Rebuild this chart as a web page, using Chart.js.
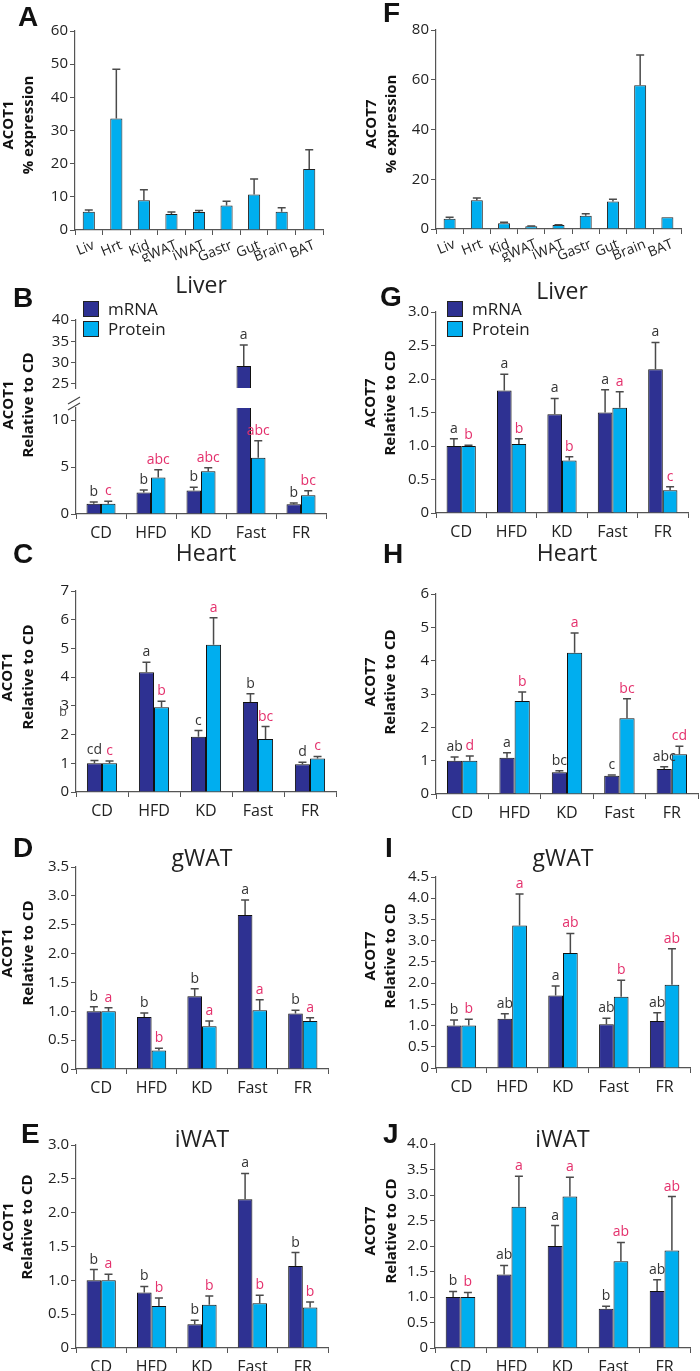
<!DOCTYPE html>
<html>
<head>
<meta charset="utf-8">
<script src="https://cdn.jsdelivr.net/npm/chart.js@4/dist/chart.umd.min.js"></script>
<style>
  body { margin: 0; background: #fff; }
  #fig { position: relative; width: 700px; height: 1371px; overflow: hidden; background: #fff; }
  canvas { position: absolute; }
</style>
</head>
<body>
<div id="fig"></div>
<script>
// ---- data ----
var tissues = ['Liv', 'Hrt', 'Kid', 'gWAT', 'iWAT', 'Gastr', 'Gut', 'Brain', 'BAT'];
var diets = ['CD', 'HFD', 'KD', 'Fast', 'FR'];

// A / F: tissue distribution (% expression)
var acot1Tissue    = [5.5, 33.6, 9.0, 4.8, 5.4, 7.4, 10.7, 5.5, 18.4];
var acot1TissueErr = [0.5, 14.9, 3.1, 0.6, 0.5, 1.3, 4.7, 1.2, 5.8];
var acot7Tissue    = [4.1, 11.6, 2.3, 1.1, 1.6, 5.3, 11.1, 57.8, 4.7];
var acot7TissueErr = [0.6, 0.9, 0.4, 0.1, 0.1, 0.8, 0.9, 12.1, 0];

// B: liver ACOT1
var liver1Mrna = [1.1, 2.3, 2.5, 29.2, 1.04];
var liver1MrnaErr = [0.18, 0.27, 0.35, 4.9, 0.14];
var liver1Prot = [1.1, 3.9, 4.55, 6.0, 2.0];
var liver1ProtErr = [0.25, 0.82, 0.38, 1.8, 0.47];
var liver1MrnaSig = ['b', 'b', 'b', 'a', 'b'];
var liver1ProtSig = ['c', 'abc', 'abc', 'abc', 'bc'];

// C: heart ACOT1
var heart1Mrna = [1.0, 4.17, 1.92, 3.13, 0.97];
var heart1MrnaErr = [0.1, 0.35, 0.22, 0.29, 0.07];
var heart1Prot = [1.0, 2.95, 5.13, 1.85, 1.17];
var heart1ProtErr = [0.08, 0.21, 0.94, 0.43, 0.07];
var heart1MrnaSig = ['cd', 'a', 'c', 'b', 'd'];
var heart1ProtSig = ['c', 'b', 'a', 'bc', 'c'];

// D: gWAT ACOT1
var gwat1Mrna = [1.0, 0.9, 1.26, 2.67, 0.96];
var gwat1MrnaErr = [0.08, 0.07, 0.13, 0.26, 0.06];
var gwat1Prot = [1.0, 0.32, 0.74, 1.02, 0.83];
var gwat1ProtErr = [0.06, 0.04, 0.09, 0.18, 0.06];
var gwat1MrnaSig = ['b', 'b', 'b', 'a', 'b'];
var gwat1ProtSig = ['a', 'b', 'a', 'a', 'a'];

// E: iWAT ACOT1
var iwat1Mrna = [1.0, 0.82, 0.35, 2.2, 1.21];
var iwat1MrnaErr = [0.16, 0.09, 0.06, 0.38, 0.2];
var iwat1Prot = [1.0, 0.62, 0.64, 0.66, 0.6];
var iwat1ProtErr = [0.09, 0.12, 0.13, 0.12, 0.08];
var iwat1MrnaSig = ['b', 'b', 'b', 'a', 'b'];
var iwat1ProtSig = ['a', 'b', 'b', 'b', 'b'];

// G: liver ACOT7
var liver7Mrna = [1.0, 1.83, 1.475, 1.5, 2.145];
var liver7MrnaErr = [0.11, 0.24, 0.235, 0.34, 0.4];
var liver7Prot = [1.0, 1.03, 0.785, 1.57, 0.34];
var liver7ProtErr = [0.01, 0.08, 0.055, 0.24, 0.05];
var liver7MrnaSig = ['a', 'a', 'a', 'a', 'a'];
var liver7ProtSig = ['b', 'b', 'b', 'a', 'c'];

// H: heart ACOT7
var heart7Mrna = [1.0, 1.09, 0.65, 0.55, 0.75];
var heart7MrnaErr = [0.11, 0.15, 0.05, 0.02, 0.07];
var heart7Prot = [1.0, 2.79, 4.24, 2.27, 1.19];
var heart7ProtErr = [0.14, 0.27, 0.59, 0.59, 0.24];
var heart7MrnaSig = ['ab', 'a', 'bc', 'c', 'abc'];
var heart7ProtSig = ['d', 'b', 'a', 'bc', 'cd'];

// I: gWAT ACOT7
var gwat7Mrna = [1.0, 1.16, 1.71, 1.03, 1.11];
var gwat7MrnaErr = [0.13, 0.12, 0.22, 0.14, 0.19];
var gwat7Prot = [1.0, 3.36, 2.71, 1.68, 1.96];
var gwat7ProtErr = [0.15, 0.74, 0.46, 0.39, 0.85];
var gwat7MrnaSig = ['b', 'ab', 'a', 'ab', 'ab'];
var gwat7ProtSig = ['b', 'a', 'ab', 'b', 'ab'];

// J: iWAT ACOT7
var iwat7Mrna = [1.0, 1.44, 2.0, 0.77, 1.12];
var iwat7MrnaErr = [0.11, 0.18, 0.4, 0.05, 0.22];
var iwat7Prot = [1.0, 2.77, 2.97, 1.7, 1.91];
var iwat7ProtErr = [0.09, 0.6, 0.38, 0.37, 1.06];
var iwat7MrnaSig = ['b', 'ab', 'a', 'b', 'ab'];
var iwat7ProtSig = ['b', 'a', 'a', 'ab', 'ab'];

// ---- styling ----
var NAVY = '#2e3192';
var CYAN = '#00aeef';
var PINK = '#e4306c';
var INK = '#333333';
var AXIS = '#555555';
var FONT = '"Open Sans", sans-serif';
Chart.defaults.font.family = FONT;
Chart.defaults.color = '#222';

var fig = document.getElementById('fig');
var fmtInt = function (v) { return String(v); };
var fmtDec = function (v) { return v === 0 ? '0' : v.toFixed(1); };

function pair(m, me, ms, p, pe, ps) {
  return [
    { label: 'mRNA', data: m, err: me, sig: ms, sigColor: INK, backgroundColor: NAVY,
      borderColor: '#111', borderWidth: 1, clip: 0, categoryPercentage: 0.58, barPercentage: 1 },
    { label: 'Protein', data: p, err: pe, sig: ps, sigColor: PINK, backgroundColor: CYAN,
      borderColor: '#111', borderWidth: 1, clip: 0, categoryPercentage: 0.58, barPercentage: 1 }
  ];
}

function single(v, e) {
  return [{ label: 'expr', data: v, err: e, backgroundColor: CYAN, borderColor: '#222',
    borderWidth: 1, clip: 0, categoryPercentage: 0.44, barPercentage: 1 }];
}

// extra drawing: error bars, letters, titles, legends
function extras(p) {
  return {
    id: 'extras',
    afterDatasetsDraw: function (chart) {
      var ctx = chart.ctx, y = chart.scales.y, a = chart.chartArea;
      chart.data.datasets.forEach(function (ds, di) {
        var meta = chart.getDatasetMeta(di);
        meta.data.forEach(function (bar, i) {
          var v = ds.data[i], e = ds.err ? ds.err[i] : 0;
          var yb = y.getPixelForValue(v), yt = y.getPixelForValue(v + e);
          if (e > 0) {
            ctx.save();
            ctx.beginPath();
            ctx.rect(a.left, a.top, a.right - a.left, a.bottom - a.top);
            ctx.clip();
            ctx.strokeStyle = '#4a4a4a';
            ctx.lineWidth = 1.5;
            ctx.beginPath();
            ctx.moveTo(bar.x, yb);
            ctx.lineTo(bar.x, yt);
            ctx.moveTo(bar.x - 4, yt);
            ctx.lineTo(bar.x + 4, yt);
            ctx.stroke();
            ctx.restore();
          }
          if (ds.sig && yt >= a.top - 1 && yt <= a.bottom) {
            ctx.save();
            ctx.font = '14px ' + FONT;
            ctx.fillStyle = ds.sigColor;
            ctx.textAlign = 'center';
            ctx.textBaseline = 'alphabetic';
            ctx.fillText(ds.sig[i], bar.x, yt - 6);
            ctx.restore();
          }
        });
      });
    },
    afterDraw: function (chart) {
      var ctx = chart.ctx;
      ctx.save();
      ctx.translate(-p.box[0], -p.box[1]);
      if (p.letter) {
        ctx.font = 'bold 28px "Liberation Sans", Arial, sans-serif';
        ctx.fillStyle = '#111';
        ctx.textAlign = 'left';
        ctx.fillText(p.letter[0], p.letter[1], p.letter[2]);
      }
      if (p.title) {
        var a = chart.chartArea;
        ctx.font = '23px ' + FONT;
        ctx.fillStyle = '#222';
        ctx.textAlign = 'center';
        ctx.fillText(p.title[0], p.box[0] + (a.left + a.right) / 2, p.title[1]);
      }
      if (p.ytitle) {
        ctx.font = 'bold 15px ' + FONT;
        ctx.fillStyle = '#111';
        ctx.textAlign = 'center';
        ctx.textBaseline = 'middle';
        p.ytitle.lines.forEach(function (t, k) {
          ctx.save();
          ctx.translate(p.ytitle.x[k], p.ytitle.yc);
          ctx.rotate(-Math.PI / 2);
          ctx.fillText(t, 0, 0);
          ctx.restore();
        });
        ctx.textBaseline = 'alphabetic';
      }
      if (p.legend) {
        var lx = p.legend[0], ly = p.legend[1];
        chart.data.datasets.forEach(function (ds, k) {
          ctx.fillStyle = ds.backgroundColor;
          ctx.fillRect(lx, ly + k * 20, 16, 16);
          ctx.strokeStyle = '#222';
          ctx.lineWidth = 1;
          ctx.strokeRect(lx + 0.5, ly + k * 20 + 0.5, 15, 15);
          ctx.font = '17px ' + FONT;
          ctx.fillStyle = '#222';
          ctx.textAlign = 'left';
          ctx.fillText(ds.label, lx + 25, ly + k * 20 + 14);
        });
      }
      if (p.breakMarks) {
        ctx.strokeStyle = '#444';
        ctx.lineWidth = 1.2;
        ctx.beginPath();
        ctx.moveTo(68, 404); ctx.lineTo(80, 397);
        ctx.moveTo(68, 410); ctx.lineTo(80, 403);
        ctx.stroke();
      }
      if (p.stray) {
        ctx.font = '13px ' + FONT;
        ctx.fillStyle = '#555';
        ctx.textAlign = 'center';
        ctx.fillText(p.stray[0], p.stray[1], p.stray[2]);
      }
      ctx.restore();
    }
  };
}

function panel(p) {
  var c = document.createElement('canvas');
  c.width = p.box[2];
  c.height = p.box[3];
  c.style.left = p.box[0] + 'px';
  c.style.top = p.box[1] + 'px';
  fig.appendChild(c);
  var yW = p.area[0] - p.box[0];
  var padT = p.area[1] - p.box[1];
  var padR = p.box[0] + p.box[2] - p.area[2];
  var xH = p.box[1] + p.box[3] - p.area[3];
  new Chart(c, {
    type: 'bar',
    data: { labels: p.labels, datasets: p.sets },
    options: {
      responsive: false,
      animation: false,
      devicePixelRatio: 1,
      layout: { padding: { left: 0, top: padT, right: padR, bottom: p.hideX ? xH : 0 } },
      plugins: { legend: { display: false }, tooltip: { enabled: false }, title: { display: false } },
      scales: {
        x: {
          display: !p.hideX,
          grid: { offset: true, drawOnChartArea: false, drawTicks: true, tickLength: 5, color: AXIS },
          border: { color: AXIS, width: 1.2 },
          ticks: p.rot ? { font: { size: 14 }, minRotation: 22, maxRotation: 22, padding: 2, labelOffset: 5, autoSkip: false }
                       : { font: { size: 16 }, padding: 5, autoSkip: false },
          afterFit: function (s) { s.height = xH; }
        },
        y: {
          min: p.min || 0,
          max: p.max,
          grid: { drawOnChartArea: false, drawTicks: true, tickLength: 5, color: AXIS },
          border: { color: AXIS, width: 1.2 },
          ticks: { stepSize: p.step, includeBounds: false, font: { size: 15 }, padding: 2, callback: p.fmt },
          afterFit: function (s) { s.width = yW; }
        }
      }
    },
    plugins: [extras(p)]
  });
}

// ---- panels ----
panel({ box: [0, 0, 350, 262], area: [75, 31, 323, 230], labels: tissues, rot: true,
  sets: single(acot1Tissue, acot1TissueErr), max: 60, step: 10, fmt: fmtInt,
  letter: ['A', 18, 26], ytitle: { lines: ['ACOT1', '% expression'], x: [9, 29], yc: 125 } });

panel({ box: [350, 0, 350, 262], area: [436, 30, 681, 229], labels: tissues, rot: true,
  sets: single(acot7Tissue, acot7TissueErr), max: 80, step: 20, fmt: fmtInt,
  letter: ['F', 383, 22], ytitle: { lines: ['ACOT7', '% expression'], x: [372, 392], yc: 124 } });

// B: broken axis, lower part first then upper part
panel({ box: [0, 270, 350, 278], area: [76, 408, 326, 514], labels: diets,
  sets: pair(liver1Mrna, liver1MrnaErr, liver1MrnaSig, liver1Prot, liver1ProtErr, liver1ProtSig),
  max: 11.3, step: 5, fmt: fmtInt, breakMarks: true,
  letter: ['B', 13, 307], title: ['Liver', 293], legend: [83, 301],
  ytitle: { lines: ['ACOT1', 'Relative to CD'], x: [9, 29], yc: 405 } });
panel({ box: [0, 270, 350, 129], area: [76, 320, 326, 398], labels: diets, hideX: true,
  sets: pair(liver1Mrna, liver1MrnaErr, liver1MrnaSig, liver1Prot, liver1ProtErr, liver1ProtSig),
  min: 24, max: 40, step: 5, fmt: fmtInt });

panel({ box: [350, 270, 350, 278], area: [436, 312, 688, 513], labels: diets,
  sets: pair(liver7Mrna, liver7MrnaErr, liver7MrnaSig, liver7Prot, liver7ProtErr, liver7ProtSig),
  max: 3, step: 0.5, fmt: fmtDec,
  letter: ['G', 380, 306], title: ['Liver', 299], legend: [447, 301],
  ytitle: { lines: ['ACOT7', 'Relative to CD'], x: [371, 391], yc: 403 } });

panel({ box: [0, 520, 350, 310], area: [76, 591, 336, 792], labels: diets,
  sets: pair(heart1Mrna, heart1MrnaErr, heart1MrnaSig, heart1Prot, heart1ProtErr, heart1ProtSig),
  max: 7, step: 1, fmt: fmtInt, stray: ['b', 63, 716],
  letter: ['C', 13, 563], title: ['Heart', 561],
  ytitle: { lines: ['ACOT1', 'Relative to CD'], x: [8, 29], yc: 677 } });

panel({ box: [350, 520, 350, 310], area: [436, 594, 698, 794], labels: diets,
  sets: pair(heart7Mrna, heart7MrnaErr, heart7MrnaSig, heart7Prot, heart7ProtErr, heart7ProtSig),
  max: 6, step: 1, fmt: fmtInt,
  letter: ['H', 383, 563], title: ['Heart', 561],
  ytitle: { lines: ['ACOT7', 'Relative to CD'], x: [371, 391], yc: 682 } });

panel({ box: [0, 826, 350, 279], area: [76, 867, 328, 1069], labels: diets,
  sets: pair(gwat1Mrna, gwat1MrnaErr, gwat1MrnaSig, gwat1Prot, gwat1ProtErr, gwat1ProtSig),
  max: 3.5, step: 0.5, fmt: fmtDec,
  letter: ['D', 13, 857], title: ['gWAT', 866],
  ytitle: { lines: ['ACOT1', 'Relative to CD'], x: [8, 29], yc: 953 } });

panel({ box: [350, 826, 350, 279], area: [436, 877, 690, 1068], labels: diets,
  sets: pair(gwat7Mrna, gwat7MrnaErr, gwat7MrnaSig, gwat7Prot, gwat7ProtErr, gwat7ProtSig),
  max: 4.5, step: 0.5, fmt: fmtDec,
  letter: ['I', 385, 857], title: ['gWAT', 866],
  ytitle: { lines: ['ACOT7', 'Relative to CD'], x: [371, 391], yc: 956 } });

panel({ box: [0, 1105, 350, 266], area: [76, 1145, 328, 1348], labels: diets,
  sets: pair(iwat1Mrna, iwat1MrnaErr, iwat1MrnaSig, iwat1Prot, iwat1ProtErr, iwat1ProtSig),
  max: 3, step: 0.5, fmt: fmtDec,
  letter: ['E', 21, 1143], title: ['iWAT', 1147],
  ytitle: { lines: ['ACOT1', 'Relative to CD'], x: [9, 28], yc: 1227 } });

panel({ box: [350, 1105, 350, 266], area: [435, 1144, 690, 1348], labels: diets,
  sets: pair(iwat7Mrna, iwat7MrnaErr, iwat7MrnaSig, iwat7Prot, iwat7ProtErr, iwat7ProtSig),
  max: 4, step: 0.5, fmt: fmtDec,
  letter: ['J', 383, 1143], title: ['iWAT', 1147],
  ytitle: { lines: ['ACOT7', 'Relative to CD'], x: [371, 392], yc: 1231 } });
</script>
</body>
</html>
